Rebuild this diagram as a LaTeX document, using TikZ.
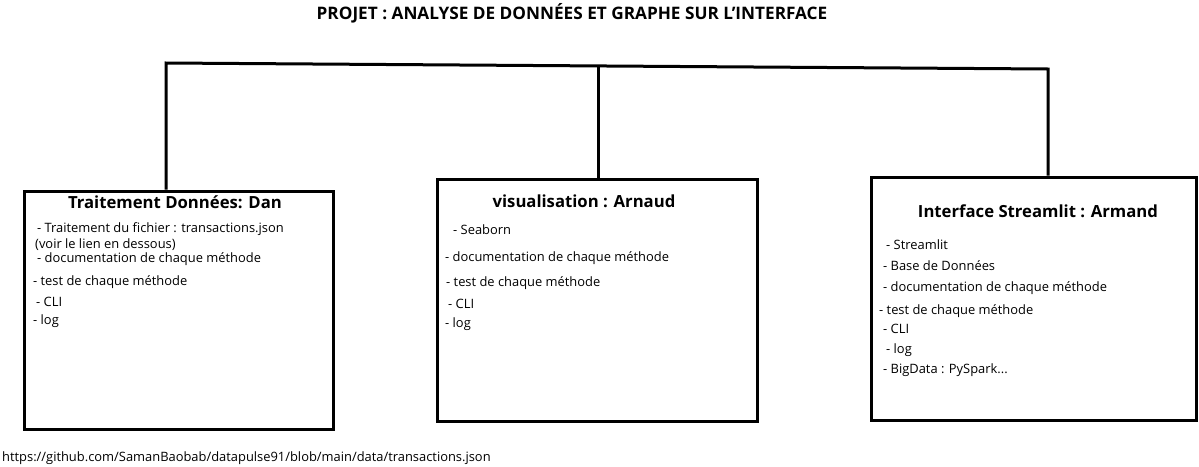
\documentclass[tikz,border=0pt]{standalone}
\usepackage{fontspec}
\setmainfont{Open Sans}
\usetikzlibrary{fit,positioning}

\begin{document}
\begin{tikzpicture}[x=1pt, y=-1pt,
                font=\fontsize{12.9}{15}\selectfont,
                block/.style={rectangle, draw, line width=3pt, inner sep=0pt},
                label/.style={anchor=base west, inner sep=0pt},
                head/.style={anchor=base, inner sep=0pt, font=\fontsize{16.7}{19}\selectfont\bfseries},
                link/.style={draw, line width=3pt}
            ]
            \useasboundingbox (0,0) rectangle (1199,466);
            \node[anchor=base, inner sep=0pt, font=\fontsize{17.2}{20}\selectfont\bfseries] (title) at (572,19) {PROJET : ANALYSE DE DONNÉES ET GRAPHE SUR L'INTERFACE};
            % les trois blocs
            \node[block, fit={(24,191) (333,429)}] (dan) {};
            \node[block, fit={(437,179) (757,421)}] (arnaud) {};
            \node[block, fit={(871,177) (1196,420)}] (armand) {};
            % bloc Dan
            \node[head] (danT) at (175,208) {Traitement Données: Dan};
            \node[label] (dan1) at (37,232) {- Traitement du fichier : transactions.json};
            \node[label] (dan2) at (35,248) {(voir le lien en dessous)};
            \node[label] (dan3) at (37,262) {- documentation de chaque méthode};
            \node[label] (dan4) at (33,285) {- test de chaque méthode};
            \node[label] (dan5) at (36,306) {- CLI};
            \node[label] (dan6) at (33,324) {- log};
            % bloc Arnaud
            \node[head] (arnaudT) at (584,207) {visualisation : Arnaud};
            \node[label] (arnaud1) at (453,234) {- Seaborn};
            \node[label] (arnaud2) at (445,261) {- documentation de chaque méthode};
            \node[label] (arnaud3) at (446,286) {- test de chaque méthode};
            \node[label] (arnaud4) at (448,308) {- CLI};
            \node[label] (arnaud5) at (445,327) {- log};
            % bloc Armand
            \node[head] (armandT) at (1038,217) {Interface Streamlit : Armand};
            \node[label] (armand1) at (886,249) {- Streamlit};
            \node[label] (armand2) at (883,270) {- Base de Données};
            \node[label] (armand3) at (883,291) {- documentation de chaque méthode};
            \node[label] (armand4) at (879,314) {- test de chaque méthode};
            \node[label] (armand5) at (883,333) {- CLI};
            \node[label] (armand6) at (886,353) {- log};
            \node[label] (armand7) at (883,373) {- BigData : PySpark...};
            % lien
            \node[label] (url) at (2,461) {https://github.com/SamanBaobab/datapulse91/blob/main/data/transactions.json};
            % arbre
            \coordinate (barL) at (166,63);
            \coordinate (barM) at (598,66);
            \coordinate (barR) at (1048,69);
            \path[link] (dan.north -| barL) -- (barL) -- (barR) -- (armand.north -| barR);
            \path[link] (barM) -- (arnaud.north -| barM);
        \end{tikzpicture}
\end{document}
